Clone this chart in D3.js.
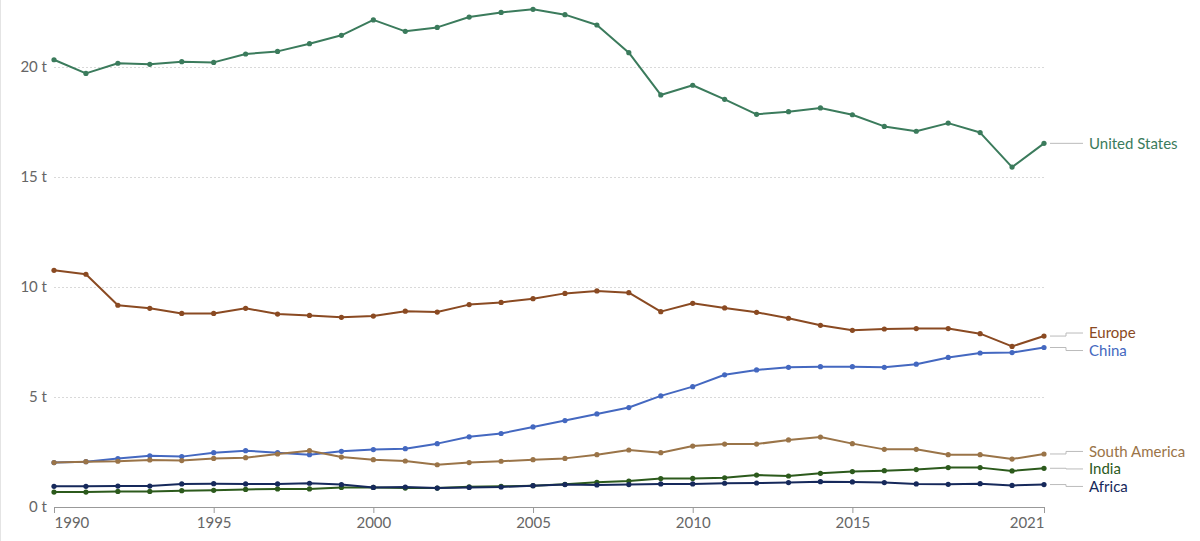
<!DOCTYPE html>
<html>
<head>
<meta charset="utf-8">
<script src="https://cdn.jsdelivr.net/npm/d3@7"></script>
<style>
  body { margin: 0; background: #fff; }
  svg { display: block; font-family: Lato, "Open Sans", sans-serif; }
</style>
</head>
<body>
<svg id="chart"></svg>
<script>
// years on the x axis
var years = d3.range(1990, 2022)

// tonnes per person
var unitedStates = [20.33, 19.71, 20.17, 20.12, 20.24, 20.21, 20.59, 20.71, 21.06, 21.44, 22.14, 21.62, 21.80, 22.27, 22.48, 22.62,
    22.38, 21.91, 20.65, 18.73, 19.17, 18.53, 17.85, 17.97, 18.14, 17.83, 17.30, 17.08, 17.45, 17.02, 15.45, 16.53]
var europe = [10.76, 10.58, 9.17, 9.03, 8.80, 8.80, 9.03, 8.77, 8.71, 8.62, 8.68, 8.90, 8.86, 9.20, 9.30, 9.47,
    9.71, 9.82, 9.74, 8.88, 9.26, 9.05, 8.85, 8.58, 8.26, 8.03, 8.09, 8.11, 8.11, 7.88, 7.30, 7.77]
var china = [2.02, 2.06, 2.20, 2.33, 2.29, 2.47, 2.56, 2.47, 2.38, 2.53, 2.61, 2.65, 2.88, 3.19, 3.34, 3.64,
    3.93, 4.23, 4.52, 5.05, 5.47, 6.01, 6.23, 6.35, 6.38, 6.38, 6.35, 6.49, 6.80, 7.00, 7.02, 7.25]
var southAmerica = [2.02, 2.06, 2.08, 2.14, 2.11, 2.21, 2.24, 2.41, 2.56, 2.27, 2.15, 2.09, 1.92, 2.02, 2.08, 2.15,
    2.21, 2.38, 2.59, 2.47, 2.77, 2.86, 2.86, 3.05, 3.18, 2.88, 2.62, 2.62, 2.38, 2.38, 2.18, 2.41]
var india = [0.68, 0.68, 0.71, 0.71, 0.74, 0.76, 0.80, 0.82, 0.82, 0.89, 0.89, 0.86, 0.86, 0.92, 0.94, 0.97,
    1.03, 1.12, 1.18, 1.29, 1.30, 1.33, 1.45, 1.41, 1.53, 1.61, 1.65, 1.70, 1.79, 1.79, 1.64, 1.76]
var africa = [0.94, 0.94, 0.95, 0.95, 1.05, 1.06, 1.05, 1.05, 1.08, 1.02, 0.89, 0.91, 0.86, 0.89, 0.91, 0.97,
    1.02, 1.00, 1.02, 1.05, 1.05, 1.08, 1.09, 1.11, 1.15, 1.14, 1.11, 1.05, 1.03, 1.06, 0.98, 1.02]

var seriesNames = ["United States", "Europe", "China", "South America", "India", "Africa"]
var seriesValues = [unitedStates, europe, china, southAmerica, india, africa]
var seriesColors = ["#3b7b5c", "#8a4a22", "#4468c0", "#9a7448", "#2c5a1c", "#16295b"]

var xTicks = [1990, 1995, 2000, 2005, 2010, 2015, 2021]
var yTicks = [0, 5, 10, 15, 20]

var dimensions = {
    width: 1200,
    height: 541,
    margin: {
        top: 67,
        bottom: 34,
        right: 156,
        left: 54
    }
}

var svg = d3.select("#chart")
    .attr("width", dimensions.width)
    .attr("height", dimensions.height)

var xScale = d3.scaleLinear()
    .domain([1990, 2021])
    .range([dimensions.margin.left, dimensions.width - dimensions.margin.right])

var yScale = d3.scaleLinear()
    .domain([0, 20])
    .range([dimensions.height - dimensions.margin.bottom, dimensions.margin.top])

// faint left border
svg.append("line")
    .attr("x1", 0.5).attr("x2", 0.5)
    .attr("y1", 0).attr("y2", dimensions.height)
    .attr("stroke", "#e4e4e4")

// y gridlines + labels
var yAxisgen = d3.axisLeft(yScale)
    .tickValues(yTicks)
    .tickSize(-(xScale(2021) - xScale(1990)))
    .tickFormat(d => d + " t")

var yAxis = svg.append("g")
    .attr("transform", `translate(${dimensions.margin.left},0)`)
    .call(yAxisgen)
yAxis.select(".domain").remove()
yAxis.selectAll(".tick line")
    .attr("stroke", "#d9d9d9")
    .attr("stroke-dasharray", "2,2")
    .filter(d => d === 0).remove()
yAxis.selectAll(".tick text")
    .attr("x", -7)
    .attr("fill", "#666")
    .style("font-size", "15px")
    .style("font-family", "Lato, sans-serif")

// x axis
var xAxisgen = d3.axisBottom(xScale)
    .tickValues(xTicks)
    .tickSize(6)
    .tickFormat(d3.format("d"))

var xAxis = svg.append("g")
    .attr("transform", `translate(0,${yScale(0)})`)
    .call(xAxisgen)
xAxis.select(".domain").attr("stroke", "#999").attr("d", `M${xScale(1990)},0.5H${xScale(2021)}`)
xAxis.selectAll(".tick line").attr("stroke", "#999")
xAxis.selectAll(".tick text")
    .attr("y", 10)
    .attr("fill", "#666")
    .style("font-size", "15px")
    .style("font-family", "Lato, sans-serif")
    .attr("text-anchor", d => d === 1990 ? "start" : d === 2021 ? "end" : "middle")

// lines and dots
var line = d3.line()
    .x((d, i) => xScale(years[i]))
    .y(d => yScale(d))

seriesValues.forEach(function(values, k) {
    svg.append("path")
        .datum(values)
        .attr("fill", "none")
        .attr("stroke", seriesColors[k])
        .attr("stroke-width", 2)
        .attr("stroke-linejoin", "round")
        .attr("d", line)

    svg.append("g").selectAll("circle")
        .data(values)
        .enter()
        .append("circle")
        .attr("cx", (d, i) => xScale(years[i]))
        .attr("cy", d => yScale(d))
        .attr("r", 2.6)
        .attr("fill", seriesColors[k])
})

// end labels, nudged apart so they don't overlap
var labels = seriesNames.map((name, k) => ({
    name: name,
    color: seriesColors[k],
    y0: yScale(seriesValues[k][seriesValues[k].length - 1])
}))
labels.forEach(l => l.y = l.y0)
labels.sort((a, b) => a.y0 - b.y0)
var gap = 17.5
for (var iter = 0; iter < 50; iter++) {
    for (var i = 1; i < labels.length; i++) {
        var overlap = labels[i - 1].y + gap - labels[i].y
        if (overlap > 0) {
            labels[i - 1].y -= overlap / 2
            labels[i].y += overlap / 2
        }
    }
}

var xEnd = xScale(2021)
labels.forEach(function(l) {
    svg.append("path")
        .attr("fill", "none")
        .attr("stroke", "#bbb")
        .attr("stroke-width", 1)
        .attr("d", `M${xEnd + 6},${l.y0}H${xEnd + 22}V${l.y}H${xEnd + 39}`)
    svg.append("text")
        .attr("x", xEnd + 45)
        .attr("y", l.y)
        .attr("dy", "0.35em")
        .attr("fill", l.color)
        .style("font-size", "15px")
        .style("font-family", "Lato, sans-serif")
        .text(l.name)
})
</script>
</body>
</html>
